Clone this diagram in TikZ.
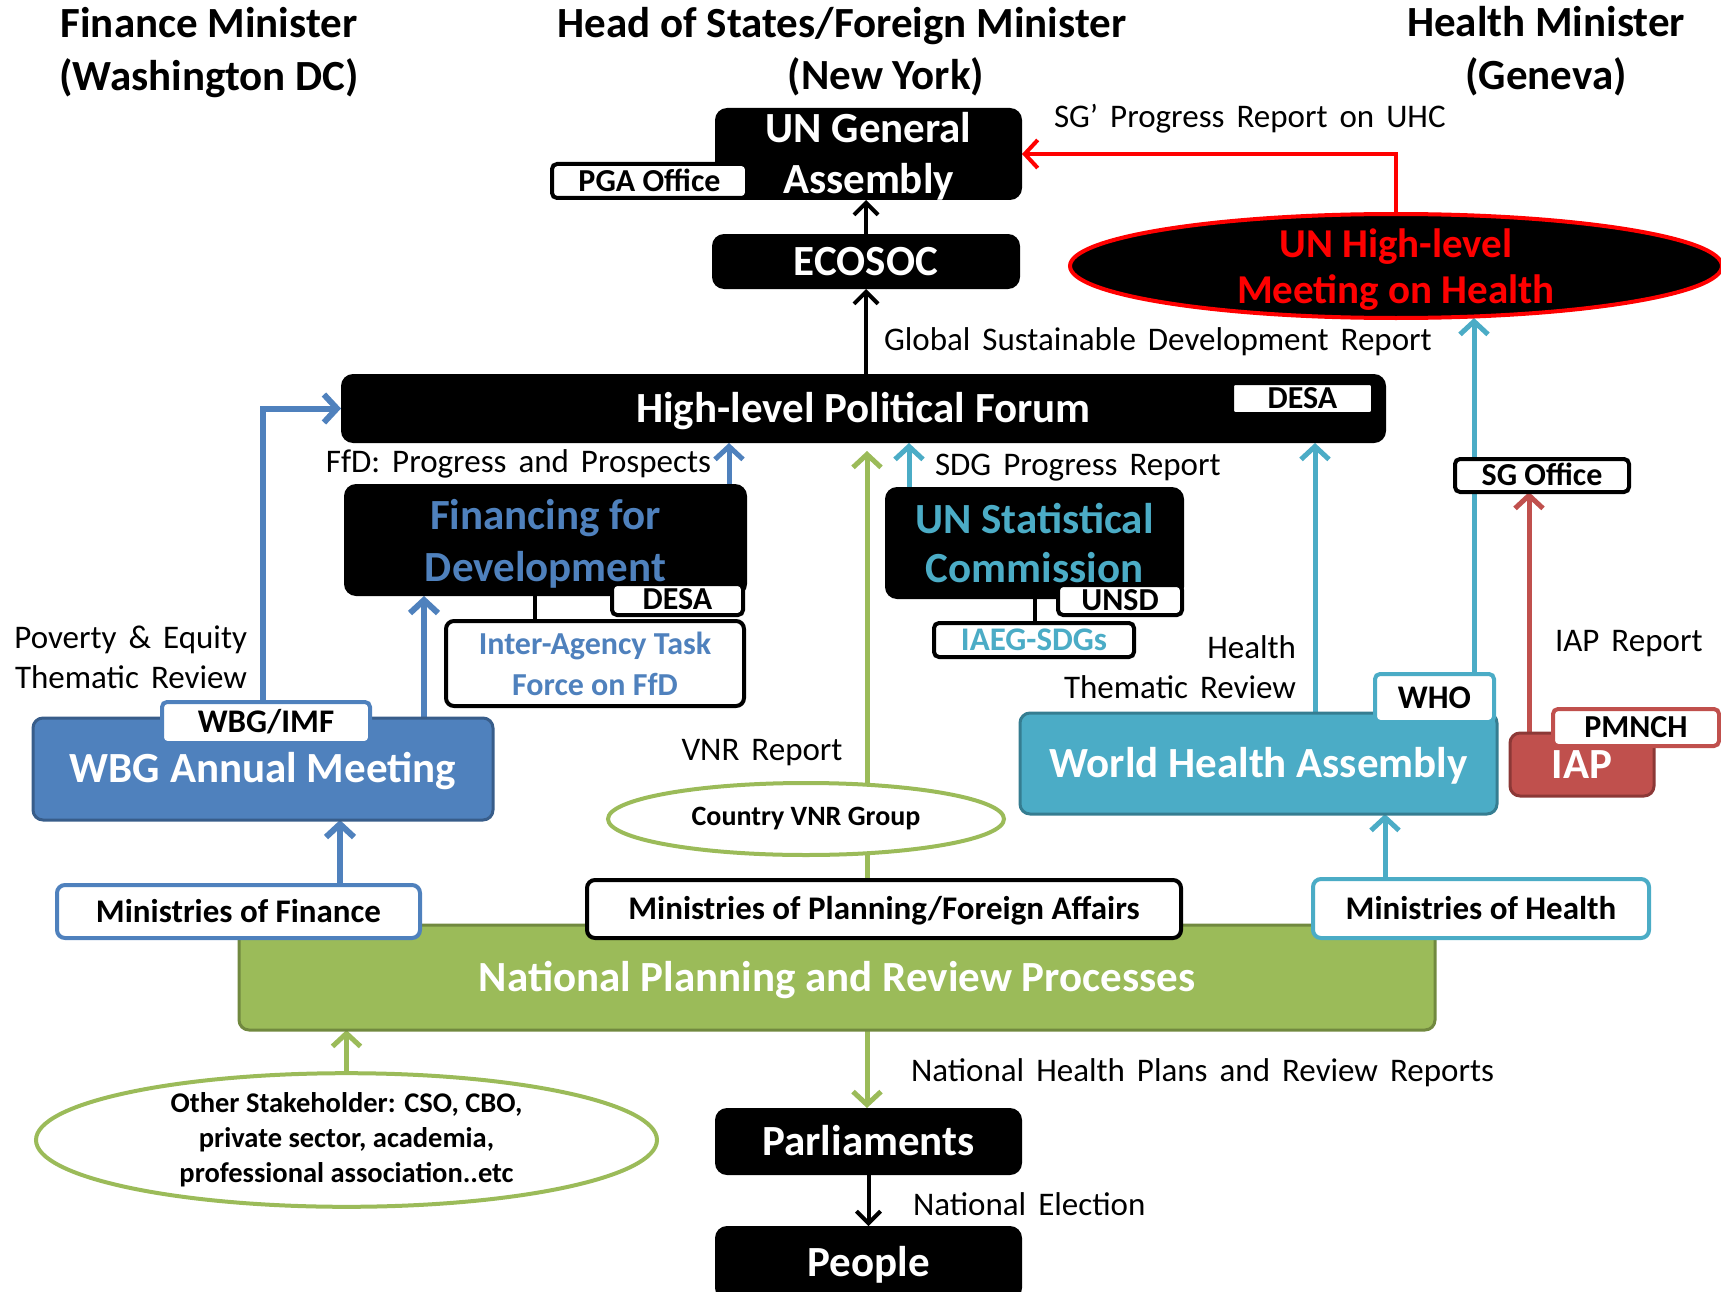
\documentclass[tikz,border=0pt]{standalone}
\usepackage{fontspec}
\setmainfont{Carlito}
\usetikzlibrary{arrows.meta,shapes.geometric,calc}
\definecolor{cblue}{HTML}{4F81BD}
\definecolor{cbluedk}{HTML}{385D8A}
\definecolor{ccyan}{HTML}{4BACC6}
\definecolor{ccyandk}{HTML}{357D91}
\definecolor{cgreen}{HTML}{9BBB59}
\definecolor{cgreendk}{HTML}{71893F}
\definecolor{cred}{HTML}{C0504D}
\definecolor{creddk}{HTML}{8C3836}
\newcommand{\fsz}[2]{\fontsize{#1}{#2}\selectfont}
\newcommand{\tstrut}[1]{\rule{0pt}{#1pt}}
\pgfdeclarelayer{bg}
\pgfsetlayers{bg,main}
\begin{document}
\begin{tikzpicture}[x=1pt,y=-1pt,
  every node/.style={inner sep=0pt, outer sep=0pt},
  title/.style={font=\bfseries\fsz{43}{53}, align=center},
  bigone/.style={font=\bfseries\fsz{43}{51}, text height=27.7, text depth=0},
  bigtwo/.style={font=\bfseries\fsz{43}{51}, align=center},
  blackbox/.style={fill=black, text=white, rounded corners=12},
  colbox/.style={line width=3, rounded corners=10, text=white, bigone},
  tagbox/.style={fill=white, draw=black, line width=4, rounded corners=5,
     font=\bfseries\fsz{32}{36}, text height=20.6, text depth=0},
  minbox/.style={fill=white, line width=4, rounded corners=8,
     font=\bfseries\fsz{33}{38}, text height=21.3, text depth=0},
  lbl/.style={font=\fsz{33}{40}, execute at begin node={\spaceskip=12pt\relax}},
  lblone/.style={lbl, text height=21.3, text depth=0},
  arr/.style={-{Straight Barb[length=13,width=28]}, line width=5},
  blk/.style={-{Straight Barb[length=12,width=24]}, line width=4, black}
]
\useasboundingbox (0,0) rectangle (1721,1292);

% titles
\node[title] (t1) at (209,53) {Finance Minister\\(Washington DC)};
\node[title, text height=27.7, text depth=0] (t2a) at (842,24) {Head of States/Foreign Minister};
\node[title] (t2b) at (886,77) {(New York)};
\node[title] (t3) at (1546,51) {Health Minister\\(Geneva)};

% top boxes
\node[blackbox, bigtwo, minimum width=307, minimum height=92] (ga) at (868.5,154) {\tstrut{34}UN General\\Assembly};
\node[tagbox, minimum width=195, minimum height=34] (pga) at (649.5,181) {PGA Office};
\node[blackbox, bigone, minimum width=308, minimum height=55] (ecosoc) at (866,261.5) {ECOSOC};
\node[ellipse, fill=black, draw=red, line width=4, text=red, font=\bfseries\fsz{41}{46}, align=center,
      inner sep=-20pt, minimum width=652, minimum height=104] (hlm) at (1396,266) {\tstrut{36}UN High-level\\Meeting on Health};
\node[blackbox, bigone, minimum width=1045, minimum height=69] (hlpf) at (863.5,408.5) {High-level Political Forum};
\node[tagbox, minimum width=141, minimum height=31, rounded corners=3] (desa1) at (1302.5,398.5) {DESA};

% middle
\node[blackbox, bigtwo, text=cblue, font=\bfseries\fsz{43}{52}, minimum width=403, minimum height=112] (ffd) at (545.5,540) {\tstrut{38}Financing for\\Development};
\node[tagbox, minimum width=131, minimum height=31] (desa2) at (677.5,599.5) {DESA};
\node[fill=white, draw=black, line width=4, rounded corners=8, text=cblue, align=center,
      font=\bfseries\fsz{32}{41}, minimum width=298, minimum height=85] (iatf) at (595,663.5) {Inter-Agency Task\\Force on FfD};
\node[blackbox, bigtwo, text=ccyan, font=\bfseries\fsz{43}{49}, minimum width=299, minimum height=112] (unsc) at (1034.5,543) {UN Statistical\\Commission};
\node[tagbox, minimum width=124, minimum height=30] (unsd) at (1120,600) {UNSD};
\node[tagbox, text=ccyan, font=\bfseries\fsz{33}{38}, minimum width=200, minimum height=34] (iaeg) at (1034,640) {IAEG-SDGs};
\node[tagbox, minimum width=174, minimum height=33] (sgo) at (1542,475.5) {SG Office};

\node[colbox, fill=cblue, draw=cbluedk, minimum width=460, minimum height=102] (wbg) at (263,769) {WBG Annual Meeting};
\node[tagbox, draw=cblue, font=\bfseries\fsz{33}{38}, minimum width=208, minimum height=41] (wbgimf) at (266,722.5) {WBG/IMF};
\node[colbox, fill=ccyan, draw=ccyandk, minimum width=477, minimum height=101] (wha) at (1258.5,763.5) {World Health Assembly};
\node[tagbox, draw=ccyan, font=\bfseries\fsz{33}{38}, minimum width=119, minimum height=48] (who) at (1434.5,698) {WHO};
\node[colbox, fill=cred, draw=creddk, minimum width=144, minimum height=63] (iap) at (1582,764.5) {IAP};
\node[tagbox, draw=cred, minimum width=166, minimum height=37] (pmnch) at (1636,727.5) {PMNCH};

\node[ellipse, fill=white, draw=cgreen, line width=4, font=\bfseries\fsz{28}{34},
      minimum width=396, minimum height=72] (vnr) at (806,819) {Country VNR Group};

% national level
\node[colbox, fill=cgreen, draw=cgreendk, minimum width=1196, minimum height=105] (np) at (837,977.5) {National Planning and Review Processes};
\node[minbox, draw=cblue, minimum width=363, minimum height=53] (mof) at (238.5,911.5) {Ministries of Finance};
\node[minbox, draw=black, minimum width=594, minimum height=58] (mop) at (884,909) {Ministries of Planning/Foreign Affairs};
\node[minbox, draw=ccyan, minimum width=336, minimum height=59] (moh) at (1481,908.5) {Ministries of Health};

\node[ellipse, fill=white, draw=cgreen, line width=4, font=\bfseries\fsz{28.5}{35}, align=center,
      minimum width=621, minimum height=126] (osh) at (346.5,1140) {Other Stakeholder: CSO, CBO,\\private sector, academia,\\professional association..etc};
\node[blackbox, bigone, minimum width=307, minimum height=67] (parl) at (868.5,1141.5) {Parliaments};
\node[blackbox, bigone, minimum width=307, minimum height=74] (people) at (868.5,1263) {People};

% labels
\node[lblone, anchor=west] (l1) at (1054,117) {SG’ Progress Report on UHC};
\node[lblone, anchor=west] (l2) at (884,340) {Global Sustainable Development Report};
\node[lblone, anchor=east] (l3) at (711,462) {FfD: Progress and Prospects};
\node[lblone, anchor=west] (l4) at (935,465) {SDG Progress Report};
\node[lbl, align=right, anchor=east] (l5) at (247,657) {Poverty \& Equity\\Thematic Review};
\node[lbl, align=right, anchor=east] (l6) at (1296,667) {Health\\Thematic Review};
\node[lblone, anchor=west] (l7) at (1555,641) {IAP Report};
\node[lblone] (l8) at (762,750) {VNR Report};
\node[lblone, anchor=west] (l9) at (911,1071) {National Health Plans and Review Reports};
\node[lblone, anchor=west] (l10) at (913,1205) {National Election};

% connector x positions
\coordinate (xwho) at (1474,0);
\coordinate (xiap) at (1529,0);
\coordinate (xwha) at (1315,0);
\coordinate (xmoh) at (1385,0);
\coordinate (xunsc) at (909,0);
\coordinate (xvnr) at (867,0);
\coordinate (xffd) at (729,0);
\coordinate (xwf) at (424,0);
\coordinate (xmof) at (340,0);
\coordinate (xfi) at (535,0);
\coordinate (xus) at (1035,0);

\begin{pgfonlayer}{bg}
\draw[blk] (ecosoc.north) -- (ecosoc.north |- ga.south);
\draw[blk] (ecosoc.south |- hlpf.north) -- (ecosoc.south);
\draw[arr, red, line width=4] (hlm.north) |- (ga.east);
\draw[arr, ccyan] (who.north -| xwho) -- (hlm.south -| xwho);
\draw[arr, cred] (iap.north -| xiap) -- (sgo.south -| xiap);
\draw[arr, ccyan] (wha.north -| xwha) -- (hlpf.south -| xwha);
\draw[arr, ccyan] (moh.north -| xmoh) -- (wha.south -| xmoh);
\draw[arr, ccyan] (unsc.north -| xunsc) -- (hlpf.south -| xunsc);
\draw[arr, cgreen, shorten >=8] (mop.north -| xvnr) -- (hlpf.south -| xvnr);
\draw[arr, cblue] (ffd.north -| xffd) -- (hlpf.south -| xffd);
\draw[arr, cblue, line width=6] (wbg.north -| xwf) -- (ffd.south -| xwf);
\draw[arr, cblue, line width=6] (wbgimf.north -| wbg.north) |- (hlpf.west);
\draw[arr, cblue, line width=6] (mof.north -| xmof) -- (wbg.south -| xmof);
\draw[arr, cgreen] (osh.north) -- (np.south -| osh.north);
\draw[arr, cgreen] (np.south -| xvnr) -- (parl.north -| xvnr);
\draw[blk] (parl.south) -- (people.north);
\draw[line width=4] (ffd.south -| xfi) -- (iatf.north -| xfi);
\draw[line width=4] (unsc.south -| xus) -- (iaeg.north -| xus);
\end{pgfonlayer}
\end{tikzpicture}
\end{document}
